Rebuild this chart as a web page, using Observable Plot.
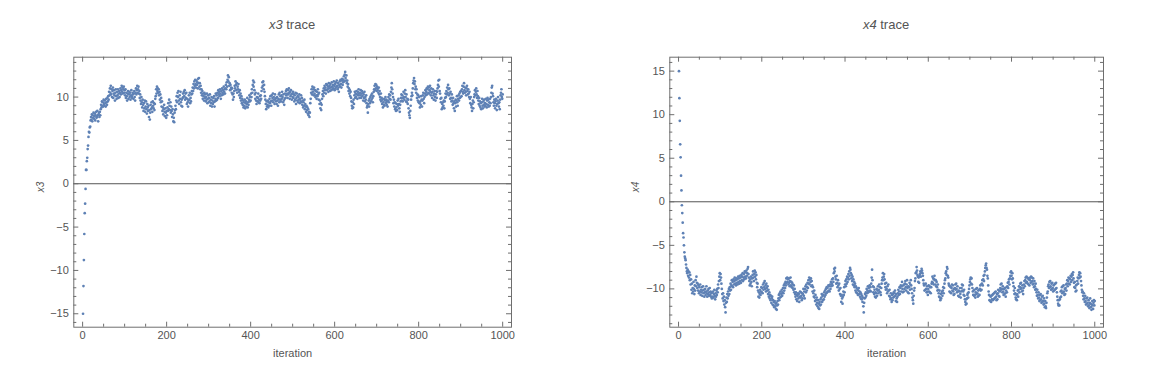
<!DOCTYPE html>
<html>
<head>
<meta charset="utf-8">
<script src="https://cdn.jsdelivr.net/npm/d3@7"></script>
<script src="https://cdn.jsdelivr.net/npm/@observablehq/plot@0.6"></script>
<style>
  html, body { margin: 0; padding: 0; background: #fff; }
  #wrap { position: relative; width: 1155px; height: 379px; font-family: "Liberation Sans", Arial, sans-serif; }
  .title { position: absolute; width: 240px; text-align: center; font-size: 13px; line-height: 16px; color: #555; top: 17px; }
  .panel { position: absolute; top: 0; }
</style>
</head>
<body>
<div id="wrap">
  <div class="title" id="t1" style="left:172px"></div>
  <div class="title" id="t2" style="left:766px"></div>
  <div class="panel" id="p1" style="left:0px"></div>
  <div class="panel" id="p2" style="left:578px"></div>
</div>
<script>
// ---- titles and labels ----
const titleVars = ["x3", "x4"];
const titleSuffix = " trace";
const xLabel = "iteration";

// ---- tick labels ----
const xTicks = [0, 200, 400, 600, 800, 1000];
const x3Ticks = [-15, -10, -5, 0, 5, 10];
const x4Ticks = [-10, -5, 0, 5, 10, 15];

// ---- series: x3 trace (iterations 1..1000) ----
const x3 = [
-15.0,-11.8,-8.8,-5.8,-3.4,-2.3,-0.6,1.6,1.6,2.6,3.0,4.0,4.4,5.4,6.0,5.9,6.5,6.6,7.3,7.7,
7.4,8.0,7.2,7.9,7.6,8.2,7.5,7.8,8.1,7.3,7.9,8.3,7.6,7.7,8.4,7.9,7.2,8.0,8.2,7.7,
8.3,7.9,8.6,9.1,8.8,9.5,9.0,9.4,8.9,9.7,9.2,9.0,9.6,9.3,8.9,9.8,9.4,9.1,9.9,9.5,
10.1,9.7,10.6,10.2,11.0,10.5,11.3,10.3,10.9,10.0,10.7,11.1,9.9,10.4,10.8,10.2,9.6,10.5,10.9,10.1,
9.8,10.6,10.2,10.9,9.9,10.4,10.7,10.0,10.5,11.0,10.3,10.8,11.3,10.6,11.1,10.4,10.9,11.2,10.5,10.8,
10.2,10.9,9.9,10.5,10.1,9.6,10.4,10.7,9.8,10.3,10.6,10.0,10.5,9.7,10.2,10.8,10.1,9.9,10.5,10.3,
9.8,10.4,10.7,10.0,9.6,10.5,11.0,10.3,10.8,11.3,10.5,10.9,11.2,10.4,10.7,9.9,10.3,9.6,9.2,10.0,
9.4,8.8,9.7,9.1,8.4,9.3,8.7,9.6,8.3,8.9,9.5,8.6,8.1,9.2,8.8,8.4,9.0,7.7,8.5,7.4,
8.2,9.1,8.6,9.4,8.8,8.3,9.5,9.0,8.7,9.3,8.5,9.2,9.8,10.1,10.9,10.4,11.2,10.7,11.0,10.5,
10.9,10.2,10.6,9.7,10.3,9.4,9.9,8.9,9.5,8.4,8.8,8.0,8.6,9.1,8.3,7.8,8.7,8.2,7.6,8.4,
7.9,8.8,8.4,9.3,8.6,9.7,9.0,8.5,9.4,8.2,8.9,8.4,7.7,8.6,8.0,7.2,7.6,7.1,8.2,8.5,
9.0,8.6,9.6,10.1,9.4,10.5,10.0,10.7,9.6,9.2,10.2,9.8,10.6,9.4,9.0,9.7,8.9,9.9,10.4,10.0,
10.6,10.1,10.8,9.7,10.4,9.9,10.5,9.2,9.8,9.4,8.9,9.6,10.2,9.7,10.5,9.3,9.9,9.5,10.3,10.7,
10.4,11.1,10.7,11.5,11.0,11.8,11.3,12.0,11.5,11.1,11.9,11.4,11.7,11.0,12.1,11.6,12.2,11.2,11.6,10.9,
11.3,10.5,10.9,10.2,10.7,9.8,10.4,10.1,9.6,10.5,9.9,10.3,9.5,10.0,9.7,10.4,9.3,9.8,10.2,9.4,
9.9,9.5,10.3,9.0,9.7,9.3,10.0,8.9,9.6,9.2,9.9,9.4,10.1,8.9,9.5,9.8,10.4,9.6,10.2,9.7,
10.5,9.9,10.8,10.3,10.6,10.1,10.9,10.4,9.8,10.7,10.2,11.0,10.5,10.8,10.3,11.2,10.6,10.9,10.4,11.0,
11.4,10.9,11.7,11.2,12.0,12.5,11.8,12.3,11.3,11.6,10.8,11.4,10.9,11.1,10.5,11.0,10.3,9.7,10.4,10.0,
10.7,11.3,11.0,11.8,11.4,10.8,11.6,10.5,11.2,10.9,11.5,10.6,10.2,10.8,9.9,10.4,9.6,10.1,9.3,9.8,
9.1,9.6,8.8,9.4,9.0,9.7,8.7,9.3,9.5,8.9,9.2,9.9,8.8,9.4,9.1,9.7,10.2,9.5,10.0,9.6,
10.4,10.0,10.9,10.5,11.4,11.9,11.2,11.7,10.8,10.3,9.8,10.5,9.6,9.2,10.0,9.5,9.9,10.4,9.4,9.7,
9.3,10.1,9.6,10.2,9.8,10.7,11.1,11.7,11.3,11.8,10.9,11.4,10.6,10.1,9.7,9.2,8.6,9.5,8.9,9.1,
9.6,8.8,9.4,9.0,9.8,9.3,10.1,9.5,9.0,10.2,9.6,9.9,10.4,9.4,10.0,9.7,9.2,10.3,9.8,9.5,
9.9,9.2,10.0,9.6,9.0,9.8,10.3,9.4,10.5,9.7,10.1,9.5,10.2,9.8,10.6,10.0,9.4,10.3,9.6,9.1,
9.8,10.4,9.9,10.7,10.2,10.9,10.4,9.9,10.8,10.3,11.0,10.5,9.8,10.6,10.1,10.8,10.3,9.7,10.4,10.0,
10.6,9.9,10.3,9.5,10.2,9.7,10.5,9.2,9.9,10.4,9.6,10.1,9.4,10.0,9.7,10.3,9.3,9.8,9.5,10.2,
9.4,9.9,9.1,9.6,8.8,9.4,9.0,9.7,8.6,9.2,8.9,8.3,9.0,8.5,8.8,8.1,8.6,7.9,8.3,7.7,
8.2,9.3,9.8,10.5,10.9,10.3,11.2,10.6,10.9,10.2,11.1,10.4,10.8,10.0,10.7,10.2,9.8,10.6,10.1,10.9,
10.3,9.7,10.5,9.2,9.6,8.7,9.3,8.5,9.1,9.8,10.3,10.7,10.1,11.0,10.5,11.3,10.8,11.1,10.4,11.5,
10.8,11.4,10.9,11.2,10.6,11.6,11.0,11.3,10.7,11.5,11.1,10.8,11.7,11.2,10.9,11.4,11.0,11.8,11.3,10.8,
11.5,11.0,11.7,11.2,11.9,11.3,10.9,11.6,11.1,10.6,11.4,11.8,11.2,12.0,11.5,11.1,11.9,12.1,11.4,11.7,
12.0,12.4,11.8,12.6,12.9,12.2,11.9,12.5,11.6,11.9,11.2,11.5,10.7,11.0,10.4,10.8,10.1,10.6,9.9,9.5,
9.0,8.7,9.4,8.8,9.7,9.2,10.2,10.6,9.9,10.4,10.0,10.7,10.3,9.8,10.6,10.2,10.9,10.4,9.9,10.5,
10.2,10.8,9.9,10.4,10.7,10.1,10.5,9.6,10.3,9.9,10.6,9.5,10.0,9.7,10.2,9.3,8.8,9.0,8.2,9.2,
9.6,8.9,9.8,9.3,10.0,9.5,10.2,9.7,10.4,9.9,9.4,10.1,10.6,10.9,11.3,10.8,11.5,11.0,11.4,10.7,
11.2,10.8,11.0,10.5,11.1,10.3,10.7,10.0,9.7,10.4,9.5,9.9,9.2,9.7,8.8,9.4,9.1,9.8,9.0,9.6,
10.0,9.3,9.7,9.1,9.5,8.9,9.6,10.0,9.4,10.3,9.8,10.2,9.7,10.6,11.1,11.6,10.9,10.4,10.0,9.3,
9.7,8.9,9.4,8.6,9.3,8.4,8.8,9.2,8.5,9.6,9.0,9.8,9.2,8.7,8.3,9.1,9.5,9.9,10.3,9.6,
10.2,9.5,9.9,10.6,10.0,9.7,10.4,10.8,10.0,9.5,10.3,9.4,9.8,9.2,9.7,8.7,8.2,7.9,7.6,8.4,
9.0,9.7,10.1,10.5,10.2,11.0,11.6,11.9,12.2,11.5,11.8,10.9,11.2,10.5,10.9,9.9,10.3,9.6,10.2,9.4,
10.0,9.3,8.8,9.5,9.1,10.1,9.7,8.9,9.6,10.2,10.5,9.8,9.3,10.0,10.4,10.8,10.2,10.6,11.0,10.3,
10.9,11.2,10.5,11.1,10.4,10.8,11.3,10.6,10.2,11.0,10.5,9.9,10.6,10.9,10.2,9.7,10.4,10.7,10.0,9.6,
10.3,10.7,9.9,10.6,11.0,11.4,11.9,11.2,12.0,10.7,10.4,9.8,9.4,9.9,8.6,9.2,8.8,9.4,9.0,9.6,
8.7,9.5,9.9,10.4,10.0,10.7,10.3,11.1,10.5,11.4,10.9,10.2,11.0,10.4,9.8,10.6,9.9,9.5,10.3,9.6,
9.1,9.9,9.3,8.7,9.5,8.4,9.3,9.7,8.9,9.6,10.1,9.4,9.0,9.8,10.2,9.6,10.4,9.9,10.6,10.0,
10.7,10.1,10.9,11.3,10.6,10.4,11.2,11.6,10.8,10.5,11.1,10.6,10.2,11.0,11.3,10.7,10.3,10.9,10.4,10.0,
10.6,9.8,9.3,10.0,9.1,8.8,8.4,9.2,9.6,8.7,9.4,10.0,10.3,10.8,10.2,10.6,11.0,10.3,9.9,10.7,
10.1,9.6,9.2,9.9,9.0,9.5,8.8,9.3,8.6,9.4,9.8,9.0,8.7,9.5,9.1,9.7,8.9,9.3,9.0,9.8,
9.2,8.8,9.6,9.9,9.1,9.7,8.9,9.4,9.0,9.8,9.3,10.0,10.5,11.1,11.3,10.4,10.1,9.4,9.0,9.7,
9.3,8.7,9.5,9.8,9.0,8.5,9.2,9.6,10.0,9.3,8.9,9.4,8.6,9.7,10.2,10.5,10.9,10.0,9.8,10.3
];

// ---- series: x4 trace (iterations 1..1000) ----
const x4 = [
15.0,11.9,9.3,6.6,5.1,3.0,1.3,-0.4,-1.3,-2.4,-3.6,-4.1,-5.0,-5.8,-6.3,-6.5,-6.7,-7.2,-7.6,-8.0,
-8.2,-7.8,-8.5,-8.0,-8.7,-8.1,-9.0,-8.4,-9.5,-8.9,-10.1,-9.4,-10.5,-9.9,-10.3,-9.2,-10.0,-10.6,-9.6,-10.2,
-9.0,-9.7,-8.6,-9.3,-9.9,-9.4,-10.2,-9.6,-10.5,-9.8,-10.3,-9.5,-10.7,-10.1,-10.4,-9.8,-10.8,-10.2,-9.7,-10.5,
-10.1,-10.9,-10.4,-10.0,-10.7,-10.3,-9.7,-10.5,-10.9,-10.2,-10.6,-10.0,-10.8,-10.4,-9.9,-10.7,-10.3,-10.9,-10.5,-11.1,
-10.4,-10.9,-10.3,-11.0,-10.6,-10.1,-10.8,-11.2,-10.5,-10.9,-10.2,-10.7,-10.0,-10.4,-9.5,-9.9,-9.1,-8.6,-8.2,-9.0,
-8.3,-8.7,-9.4,-10.0,-10.6,-11.1,-10.5,-11.4,-10.9,-11.8,-11.3,-12.1,-12.7,-11.6,-11.0,-11.5,-10.6,-11.1,-10.3,-10.8,
-10.0,-10.6,-9.8,-10.2,-9.4,-10.1,-9.6,-9.0,-9.7,-9.2,-9.8,-8.9,-9.5,-9.1,-8.7,-9.4,-9.0,-9.6,-8.8,-9.3,
-8.9,-9.5,-8.6,-9.2,-8.8,-9.4,-8.5,-9.1,-8.7,-9.3,-8.4,-9.0,-8.6,-8.2,-9.1,-8.7,-8.3,-8.9,-8.0,-8.6,
-8.1,-8.8,-7.9,-8.5,-8.2,-7.7,-7.5,-8.3,-8.7,-9.1,-9.6,-8.9,-9.4,-8.6,-9.2,-9.7,-8.8,-8.4,-8.0,-8.7,
-9.1,-8.3,-7.9,-8.6,-8.1,-8.9,-8.4,-9.3,-9.8,-9.4,-10.2,-10.9,-10.4,-11.0,-10.6,-10.1,-10.7,-10.3,-9.8,-10.4,
-9.9,-10.5,-9.5,-10.1,-9.3,-9.8,-9.1,-10.0,-9.6,-10.3,-9.4,-9.9,-10.2,-9.7,-10.6,-10.1,-10.9,-10.4,-11.1,-10.7,
-11.3,-10.8,-11.6,-11.1,-10.9,-11.8,-11.3,-11.9,-11.5,-12.1,-11.4,-12.0,-11.7,-12.3,-11.6,-12.4,-11.9,-11.4,-11.8,-11.1,
-10.7,-11.3,-10.5,-11.0,-10.3,-10.9,-10.6,-10.1,-10.8,-10.4,-9.9,-10.5,-9.6,-10.2,-9.4,-9.9,-9.2,-9.6,-8.8,-9.3,
-8.7,-9.2,-8.9,-9.5,-8.8,-9.3,-9.7,-9.1,-8.7,-9.6,-9.2,-9.8,-9.3,-9.9,-9.5,-10.1,-9.6,-10.4,-10.0,-10.6,
-10.9,-10.4,-11.2,-10.7,-11.4,-10.8,-10.5,-11.1,-10.6,-11.5,-10.9,-10.3,-11.0,-10.4,-10.8,-11.3,-10.5,-11.1,-10.6,-10.0,
-10.8,-10.3,-11.1,-10.0,-9.7,-10.4,-9.5,-10.2,-9.8,-9.3,-9.9,-9.0,-9.4,-8.7,-9.5,-8.9,-9.2,-8.8,-9.7,-9.1,
-9.6,-10.3,-9.8,-10.5,-10.9,-10.2,-11.0,-11.4,-10.7,-11.3,-11.8,-11.0,-11.6,-12.0,-11.3,-12.2,-11.7,-12.3,-11.5,-11.9,
-11.2,-11.8,-11.0,-10.6,-11.5,-10.8,-11.3,-10.7,-11.2,-10.4,-10.9,-10.2,-10.7,-10.0,-10.5,-9.8,-10.4,-9.9,-10.3,-9.6,
-10.2,-9.7,-10.3,-9.5,-10.0,-9.2,-9.7,-9.4,-8.9,-9.6,-8.8,-9.2,-8.2,-7.7,-8.0,-7.6,-8.6,-8.9,-9.4,-8.5,
-9.3,-9.8,-9.0,-9.6,-10.2,-9.4,-10.0,-10.6,-9.9,-10.8,-11.5,-10.7,-11.1,-11.7,-10.9,-10.3,-10.7,-9.8,-10.4,-9.5,
-9.1,-9.7,-8.9,-9.4,-8.6,-9.2,-8.7,-8.3,-8.9,-8.0,-8.5,-7.6,-7.8,-8.2,-8.8,-8.4,-9.1,-8.6,-9.5,-8.9,
-9.6,-9.2,-9.8,-9.4,-10.2,-9.7,-10.4,-9.9,-10.5,-10.1,-10.7,-10.2,-9.9,-10.6,-10.3,-10.9,-10.4,-11.1,-10.6,-11.2,
-10.8,-11.5,-11.0,-12.0,-12.7,-11.6,-11.1,-10.6,-11.0,-10.4,-10.8,-10.0,-10.5,-10.2,-9.7,-10.4,-9.9,-10.3,-9.6,-10.2,
-9.8,-10.3,-9.4,-8.7,-7.8,-9.0,-9.7,-10.4,-9.8,-10.6,-10.1,-10.9,-10.4,-11.0,-10.5,-10.0,-10.8,-10.2,-9.7,-10.5,
-10.1,-9.5,-10.3,-9.8,-10.4,-10.7,-9.9,-9.4,-9.0,-8.7,-8.2,-9.0,-8.6,-8.3,-8.9,-9.4,-9.8,-10.1,-9.3,-10.0,
-10.5,-9.7,-10.3,-9.5,-10.2,-10.8,-10.1,-10.9,-11.2,-10.5,-11.1,-11.5,-10.7,-11.3,-10.6,-11.0,-10.4,-10.9,-10.5,-10.2,
-10.8,-11.4,-10.6,-11.1,-11.5,-10.9,-10.5,-10.1,-10.7,-10.3,-9.8,-10.6,-9.9,-9.6,-10.3,-9.7,-9.2,-10.0,-10.4,-9.6,
-10.3,-9.5,-10.0,-9.4,-9.1,-9.8,-10.2,-9.5,-9.0,-9.9,-10.4,-9.7,-10.5,-9.8,-9.3,-10.1,-9.5,-9.0,-9.6,-10.0,
-10.5,-11.0,-11.3,-11.7,-10.8,-10.2,-9.9,-9.1,-8.8,-8.2,-8.1,-7.5,-7.9,-8.4,-8.6,-9.2,-8.7,-9.3,-8.5,-8.3,
-8.0,-8.6,-8.1,-7.7,-7.9,-8.2,-8.5,-9.0,-9.4,-9.6,-10.2,-9.5,-10.1,-9.4,-10.0,-10.4,-9.7,-10.3,-10.7,-10.0,
-9.6,-10.3,-9.7,-10.4,-9.8,-10.5,-9.8,-9.4,-9.2,-8.6,-9.3,-8.8,-9.5,-8.9,-8.5,-9.0,-9.5,-9.0,-9.7,-9.2,
-9.8,-10.2,-9.5,-10.1,-10.5,-10.9,-10.2,-11.0,-11.3,-10.6,-11.1,-10.5,-10.3,-10.8,-10.2,-9.8,-10.5,-9.9,-9.4,-9.0,
-8.8,-8.2,-8.0,-8.4,-7.5,-7.7,-8.5,-8.7,-9.4,-9.6,-10.3,-9.7,-10.4,-9.8,-10.5,-9.9,-9.5,-10.2,-9.6,-10.3,
-10.7,-10.0,-10.6,-9.9,-9.5,-10.1,-9.4,-10.0,-10.4,-9.7,-10.3,-10.8,-10.2,-10.9,-10.3,-9.9,-10.6,-11.0,-10.3,-9.9,
-9.5,-10.2,-9.6,-10.3,-10.7,-10.1,-10.8,-11.2,-11.5,-11.8,-11.2,-11.7,-11.1,-10.7,-10.5,-11.0,-10.4,-10.0,-9.6,-9.2,
-8.9,-8.7,-9.4,-8.8,-9.5,-9.9,-10.3,-10.7,-10.2,-10.8,-10.1,-10.7,-11.0,-10.4,-10.0,-10.6,-9.9,-10.5,-10.9,-10.2,
-10.8,-10.1,-10.7,-10.0,-9.6,-10.2,-9.5,-10.1,-9.4,-9.0,-9.6,-8.9,-8.5,-9.1,-8.4,-8.0,-7.6,-7.3,-7.1,-7.6,
-7.8,-8.5,-8.8,-9.6,-10.3,-10.7,-11.3,-10.8,-11.4,-10.9,-11.5,-10.8,-11.2,-10.7,-11.3,-10.6,-11.2,-10.5,-11.1,-10.4,
-11.0,-10.3,-10.9,-11.3,-10.6,-11.2,-10.5,-10.1,-10.8,-10.2,-10.9,-10.3,-9.9,-9.5,-10.1,-9.4,-10.0,-10.4,-9.7,-10.3,
-10.7,-10.0,-10.6,-9.9,-10.5,-10.9,-10.2,-9.8,-10.4,-9.7,-9.3,-9.9,-9.2,-8.9,-9.5,-8.8,-8.5,-8.1,-8.0,-8.5,
-8.9,-8.2,-8.8,-9.3,-9.7,-10.2,-10.6,-9.9,-10.5,-11.0,-11.2,-10.7,-11.3,-10.6,-10.2,-10.9,-10.1,-9.7,-10.4,-9.8,
-9.4,-10.0,-9.3,-9.9,-10.3,-9.6,-10.2,-10.6,-9.9,-9.5,-9.1,-9.7,-9.0,-8.7,-9.3,-8.6,-9.2,-8.7,-9.4,-8.8,
-9.5,-8.9,-9.6,-9.0,-8.7,-9.3,-8.6,-9.2,-8.7,-9.1,-9.5,-8.8,-9.4,-9.8,-9.1,-9.7,-10.1,-9.4,-10.0,-10.4,
-10.8,-10.1,-10.7,-11.1,-10.4,-11.0,-11.4,-10.7,-11.3,-10.6,-11.2,-11.6,-10.9,-11.5,-10.8,-11.4,-11.8,-11.1,-11.7,-12.1,
-11.4,-12.0,-12.2,-11.6,-11.0,-10.5,-10.3,-9.7,-9.5,-9.9,-9.2,-9.8,-9.1,-9.7,-10.1,-9.4,-10.0,-9.3,-9.9,-10.3,
-9.6,-10.2,-9.5,-10.1,-9.4,-10.0,-9.3,-9.9,-10.4,-10.9,-11.3,-11.7,-11.9,-11.3,-11.9,-11.2,-11.0,-10.3,-10.9,-10.2,
-9.8,-10.5,-9.7,-10.4,-9.6,-10.3,-10.7,-10.0,-10.6,-9.9,-9.5,-10.2,-9.4,-9.0,-9.7,-9.1,-8.7,-9.4,-8.8,-9.5,
-8.9,-8.5,-9.2,-8.6,-8.3,-9.0,-8.4,-8.1,-8.8,-9.3,-9.8,-9.2,-9.9,-10.3,-9.6,-10.2,-9.5,-9.1,-8.7,-9.4,
-8.8,-8.4,-8.1,-8.7,-8.2,-8.6,-9.1,-9.6,-10.1,-10.4,-10.3,-10.8,-11.2,-10.5,-11.1,-11.5,-10.8,-11.4,-11.8,-11.1,
-11.7,-11.0,-11.6,-12.0,-11.3,-11.9,-12.2,-11.6,-11.1,-11.7,-12.1,-12.4,-11.8,-11.4,-11.9,-12.3,-11.6,-11.3,-11.9,-11.4
];

// ---- styling ----
const FONT = '"Liberation Sans", Arial, sans-serif';
const TEXT = "#555";
const FRAME = "#6e6e6e";
const POINT = "#5E81B5";
const H = 379;
const xDomain = [-21, 1021];
const fmt = d => (d < 0 ? "\u2212" + (-d) : String(d));

function panel({values, yDomain, yTicks, width, ml, mr, mt, mb, ylabel, ylabelDx}) {
  const data = values.map((v, i) => ({i: i + 1, v}));
  const ph = H - mt - mb, pw = width - ml - mr;
  const ky = ph / (yDomain[1] - yDomain[0]);
  const kx = pw / (xDomain[1] - xDomain[0]);
  const xMinor = d3.range(0, 1001, 50).filter(d => !xTicks.includes(d));
  const yMinor = d3.range(Math.ceil(yDomain[0]), Math.floor(yDomain[1]) + 1).filter(d => !yTicks.includes(d));
  const MAJ = 5, MIN = 3;
  const tickX = (arr, len) => [
    Plot.ruleX(arr, {x: d => d, y1: yDomain[0], y2: yDomain[0] + len / ky, stroke: FRAME}),
    Plot.ruleX(arr, {x: d => d, y1: yDomain[1], y2: yDomain[1] - len / ky, stroke: FRAME})
  ];
  const tickY = (arr, len) => [
    Plot.ruleY(arr, {y: d => d, x1: xDomain[0], x2: xDomain[0] + len / kx, stroke: FRAME}),
    Plot.ruleY(arr, {y: d => d, x1: xDomain[1], x2: xDomain[1] - len / kx, stroke: FRAME})
  ];
  return Plot.plot({
    width, height: H,
    marginLeft: ml, marginRight: mr, marginTop: mt, marginBottom: mb,
    style: {background: "transparent", fontFamily: FONT, fontSize: "11px", color: TEXT, overflow: "visible"},
    x: {domain: xDomain},
    y: {domain: yDomain},
    marks: [
      Plot.ruleY([0], {stroke: "#555", strokeWidth: 1}),
      ...tickX(xTicks, MAJ), ...tickX(xMinor, MIN),
      ...tickY(yTicks, MAJ), ...tickY(yMinor, MIN),
      Plot.frame({stroke: FRAME, strokeWidth: 1}),
      Plot.dot(data, {x: "i", y: "v", r: 1.35, fill: POINT, stroke: null}),
      Plot.axisX(xTicks, {tickSize: 0, tickPadding: 4, tickFormat: fmt, label: null, fill: TEXT, fontSize: 11}),
      Plot.axisY(yTicks, {tickSize: 0, tickPadding: 5, tickFormat: fmt, label: null, fill: TEXT, fontSize: 11}),
      Plot.text([xLabel], {frameAnchor: "bottom", dy: 30, text: d => d, fill: TEXT, fontSize: 11}),
      Plot.text([ylabel], {frameAnchor: "left", dx: ylabelDx, rotate: -90, text: d => d, fill: TEXT, fontSize: 10, fontStyle: "italic"})
    ]
  });
}

document.getElementById("t1").innerHTML = `<i>${titleVars[0]}</i>${titleSuffix}`;
document.getElementById("t2").innerHTML = `<i>${titleVars[1]}</i>${titleSuffix}`;

document.getElementById("p1").append(panel({
  values: x3, yDomain: [-16.55, 14.6], yTicks: x3Ticks,
  width: 578, ml: 73.3, mr: 67, mt: 56.7, mb: 52.3, ylabel: titleVars[0], ylabelDx: -33
}));
document.getElementById("p2").append(panel({
  values: x4, yDomain: [-14.4, 16.6], yTicks: x4Ticks,
  width: 577, ml: 91.3, mr: 52, mt: 56.7, mb: 52.3, ylabel: titleVars[1], ylabelDx: -34
}));
</script>
</body>
</html>
